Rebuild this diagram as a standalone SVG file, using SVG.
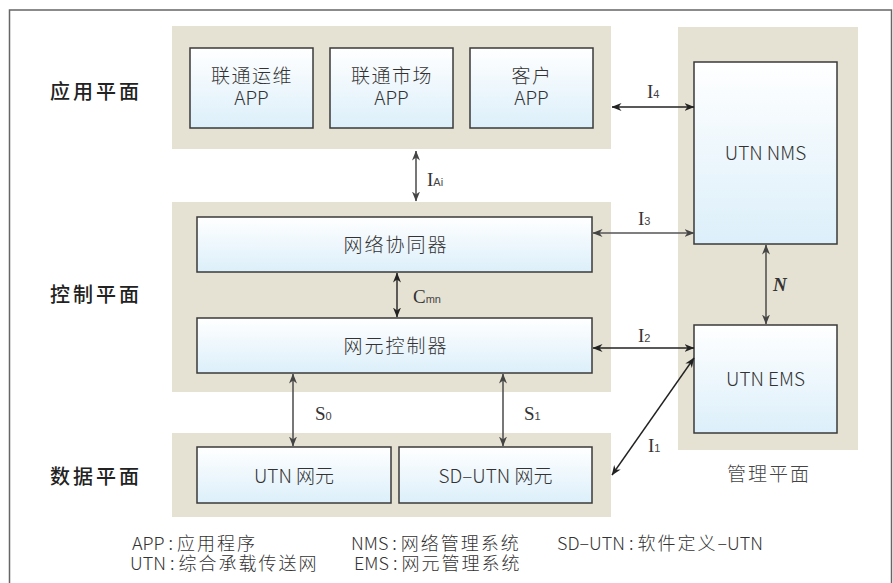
<svg xmlns="http://www.w3.org/2000/svg" width="893" height="583" viewBox="0 0 893 583">
<defs>
<linearGradient id="g" x1="0" y1="0" x2="0" y2="1">
<stop offset="0" stop-color="#ffffff"/>
<stop offset="1" stop-color="#dceffa"/>
</linearGradient>
<marker id="ad" viewBox="0 0 10 8" refX="9.5" refY="4" markerWidth="10" markerHeight="8" markerUnits="userSpaceOnUse" orient="auto-start-reverse">
<path d="M0,0 L10,4 L0,8 L3,4 z" fill="#222"/>
</marker>
<marker id="ag" viewBox="0 0 10 8" refX="9.5" refY="4" markerWidth="10" markerHeight="8" markerUnits="userSpaceOnUse" orient="auto-start-reverse">
<path d="M0,0 L10,4 L0,8 L3,4 z" fill="#444"/>
</marker>
</defs>
<style>
.plane{fill:#e5e2d3}
.box{fill:url(#g);stroke:#3a3a3a;stroke-width:1.5}
.t{font-family:"Noto Sans CJK SC","Liberation Sans",sans-serif;font-size:19px;font-weight:300;fill:#333;text-anchor:middle}
.tl{font-family:"Noto Sans CJK SC","Liberation Sans",sans-serif;font-size:20px;fill:#222;font-weight:500;letter-spacing:3px}
.lg{font-family:"Noto Sans CJK SC","Liberation Sans",sans-serif;font-size:18px;font-weight:300;fill:#333}
.zh{letter-spacing:2px}
.cd{stroke:#222;stroke-width:1.4;fill:none;marker-start:url(#ad);marker-end:url(#ad)}
.cg{stroke:#555;stroke-width:1.6;fill:none;marker-start:url(#ag);marker-end:url(#ag)}
.lab{font-family:"Liberation Serif",serif;font-size:19px;fill:#333}
.sub{font-family:"Liberation Sans",sans-serif;font-size:11px;fill:#444}
</style>
<rect x="9.5" y="10" width="882" height="590" fill="#fff" stroke="#666" stroke-width="1.5"/>

<g id="planes">
<rect class="plane" x="172" y="26" width="439" height="123"/>
<rect class="plane" x="172" y="202" width="439" height="190"/>
<rect class="plane" x="172" y="433" width="439" height="84"/>
<rect class="plane" x="678" y="27" width="180" height="423"/>
</g>

<g id="plane-labels">
<text class="tl" x="50" y="99">应用平面</text>
<text class="tl" x="50" y="302">控制平面</text>
<text class="tl" x="50" y="484">数据平面</text>
<text class="t" x="769" y="481" style="font-size:19px;fill:#444;letter-spacing:2px">管理平面</text>
</g>

<g id="app1">
<rect class="box" x="190" y="48" width="123" height="80"/>
<text class="t" x="252" y="83" style="letter-spacing:1.5px">联通运维</text>
<text class="t" x="251.5" y="105">APP</text>
</g>
<g id="app2">
<rect class="box" x="330" y="48" width="123" height="80"/>
<text class="t" x="392" y="83" style="letter-spacing:1.5px">联通市场</text>
<text class="t" x="391.5" y="105">APP</text>
</g>
<g id="app3">
<rect class="box" x="470" y="48" width="123" height="80"/>
<text class="t" x="532" y="83" style="letter-spacing:1.5px">客户</text>
<text class="t" x="531.5" y="105">APP</text>
</g>
<g id="coordinator">
<rect class="box" x="197" y="217" width="395" height="55"/>
<text class="t" x="396" y="252" style="letter-spacing:2px">网络协同器</text>
</g>
<g id="controller">
<rect class="box" x="197" y="318" width="395" height="55"/>
<text class="t" x="396" y="353" style="letter-spacing:2px">网元控制器</text>
</g>
<g id="utn-ne">
<rect class="box" x="197" y="447" width="194" height="56"/>
<text class="t" x="294" y="483">UTN 网元</text>
</g>
<g id="sdutn-ne">
<rect class="box" x="399" y="447" width="193" height="56"/>
<text class="t" x="495.5" y="483">SD–UTN 网元</text>
</g>
<g id="nms">
<rect class="box" x="694" y="62" width="143" height="182"/>
<text class="t" x="765.5" y="160">UTN NMS</text>
</g>
<g id="ems">
<rect class="box" x="694" y="325" width="143" height="108"/>
<text class="t" x="765.5" y="386">UTN EMS</text>
</g>

<g id="connectors">
<line class="cd" x1="612" y1="107" x2="694" y2="107"/>
<line class="cg" x1="416" y1="151" x2="416" y2="201"/>
<line class="cg" x1="593" y1="233" x2="694" y2="233"/>
<line class="cd" x1="397" y1="273" x2="397" y2="317"/>
<line class="cg" x1="766" y1="245" x2="766" y2="324"/>
<line class="cd" x1="593" y1="348" x2="694" y2="348"/>
<line class="cg" x1="293" y1="374" x2="293" y2="446"/>
<line class="cg" x1="503" y1="374" x2="503" y2="446"/>
<line class="cd" x1="612" y1="475" x2="694" y2="358"/>
</g>

<g id="connector-labels">
<text class="lab" x="647" y="98">I<tspan class="sub">4</tspan></text>
<text class="lab" x="427" y="186">I<tspan class="sub">Ai</tspan></text>
<text class="lab" x="638" y="225">I<tspan class="sub">3</tspan></text>
<text class="lab" x="413" y="303">C<tspan class="sub">mn</tspan></text>
<text class="lab" x="773" y="291" style="font-style:italic;font-weight:bold">N</text>
<text class="lab" x="638" y="342">I<tspan class="sub">2</tspan></text>
<text class="lab" x="315" y="420">S<tspan class="sub">0</tspan></text>
<text class="lab" x="524" y="420">S<tspan class="sub">1</tspan></text>
<text class="lab" x="648" y="452">I<tspan class="sub">1</tspan></text>
</g>

<g id="legend">
<text class="lg" x="132" y="550">APP : <tspan class="zh">应用程序</tspan></text>
<text class="lg" x="130" y="570">UTN : <tspan class="zh">综合承载传送网</tspan></text>
<text class="lg" x="351" y="550">NMS : <tspan class="zh">网络管理系统</tspan></text>
<text class="lg" x="354" y="570">EMS : <tspan class="zh">网元管理系统</tspan></text>
<text class="lg" x="557" y="550">SD–UTN : <tspan class="zh">软件定义</tspan>–UTN</text>
</g>
</svg>
